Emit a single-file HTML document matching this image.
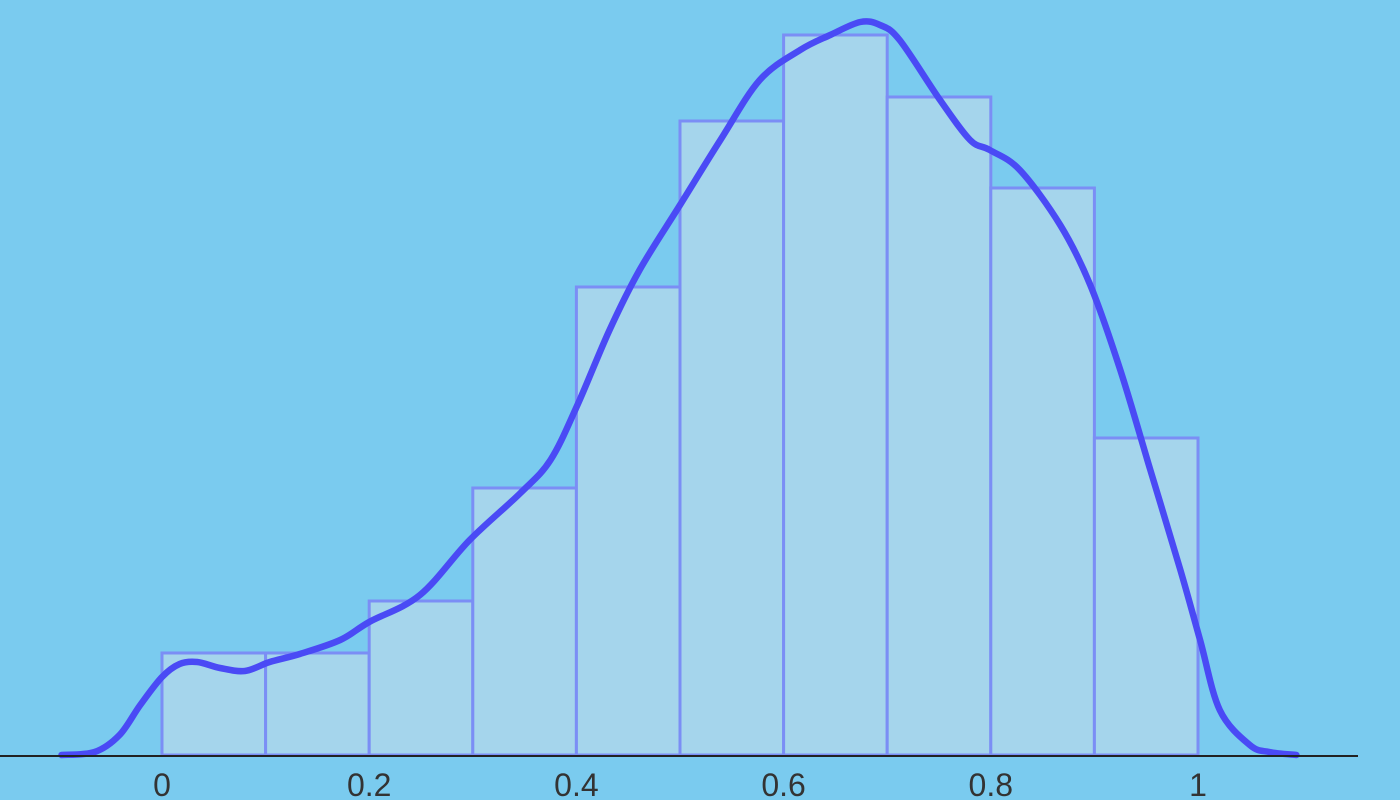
<!DOCTYPE html>
<html><head><meta charset="utf-8"><style>
body{margin:0;background:#7acbef;}
svg{display:block}
text{font-family:"Liberation Sans",sans-serif;font-size:32px;fill:#333}
</style></head><body>
<svg id="chart" width="1400" height="800">
<rect width="1400" height="800" fill="#7acbef"/>
<g id="bars"></g>
<path id="kde" fill="none" stroke="#4a4af5" stroke-width="6.5" stroke-linejoin="round" stroke-linecap="round"/>
<line x1="0" x2="1358" y1="756" y2="756" stroke="#222" stroke-width="2"/>
<g id="ticks"></g>
</svg>
<script>
const binStarts=[0,0.1,0.2,0.3,0.4,0.5,0.6,0.7,0.8,0.9];
const binHeights=[0.51,0.51,0.77,1.335,2.34,3.17,3.6,3.29,2.835,1.585];
const kdeX=[-0.097,-0.065,-0.041,-0.021,0,0.017,0.034,0.056,0.080,0.104,0.133,0.172,0.200,0.249,0.297,0.346,0.375,0.401,0.432,0.461,0.500,0.539,0.577,0.616,0.645,0.674,0.693,0.712,0.751,0.780,0.799,0.828,0.867,0.896,0.925,0.954,0.983,1.002,1.021,1.050,1.069,1.095];
const kdeY=[0,0.015,0.1,0.25,0.39,0.455,0.465,0.435,0.42,0.465,0.505,0.575,0.665,0.8,1.075,1.31,1.475,1.75,2.125,2.425,2.75,3.075,3.375,3.525,3.6,3.665,3.65,3.575,3.275,3.075,3.025,2.925,2.65,2.35,1.925,1.425,0.925,0.575,0.225,0.05,0.015,0];
const tickVals=[0,0.2,0.4,0.6,0.8,1];
const tickLabels=["0","0.2","0.4","0.6","0.8","1"];
const NS="http://www.w3.org/2000/svg";
const X=v=>162+v*1036, Y=v=>755-v*200;
const bars=document.getElementById('bars');
binStarts.forEach((s,i)=>{
  const r=document.createElementNS(NS,'rect');
  r.setAttribute('x',X(s));r.setAttribute('width',X(s+0.1)-X(s));
  r.setAttribute('y',Y(binHeights[i]));r.setAttribute('height',Y(0)-Y(binHeights[i]));
  r.setAttribute('fill','#a5d5ec');r.setAttribute('stroke','#7b8ef5');r.setAttribute('stroke-width','3');
  
  
  bars.appendChild(r);
});
const pts=kdeX.map((x,i)=>[X(x),Y(kdeY[i])]);
let d='M'+pts[0][0]+','+pts[0][1];
for(let i=0;i<pts.length-1;i++){
  const p0=pts[Math.max(0,i-1)],p1=pts[i],p2=pts[i+1],p3=pts[Math.min(pts.length-1,i+2)];
  d+=' C'+(p1[0]+(p2[0]-p0[0])/6)+','+(p1[1]+(p2[1]-p0[1])/6)+' '+(p2[0]-(p3[0]-p1[0])/6)+','+(p2[1]-(p3[1]-p1[1])/6)+' '+p2[0]+','+p2[1];
}
document.getElementById('kde').setAttribute('d',d);
const ticks=document.getElementById('ticks');
tickVals.forEach((v,i)=>{
  const t=document.createElementNS(NS,'text');
  t.setAttribute('x',X(v));t.setAttribute('y',796);t.setAttribute('text-anchor','middle');
  t.textContent=tickLabels[i];
  
  
  ticks.appendChild(t);
});
</script>
</body></html>
